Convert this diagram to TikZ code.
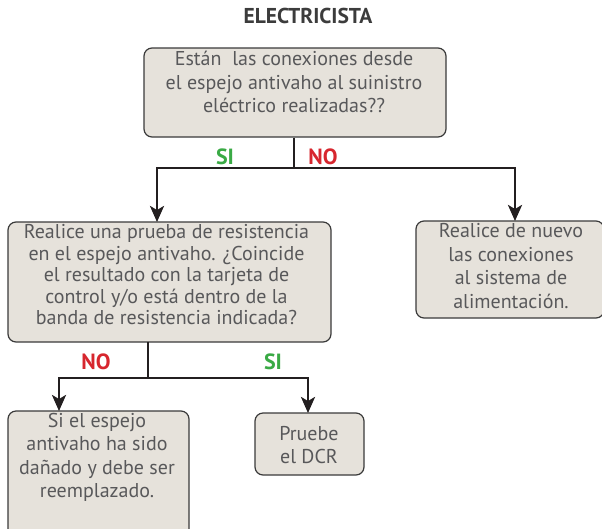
\documentclass[tikz,border=0pt]{standalone}
\usepackage{fontspec}
\setmainfont{PT Sans}
\usetikzlibrary{arrows.meta}
\definecolor{boxfill}{HTML}{E6E2DB}
\definecolor{boxline}{HTML}{3A3A3A}
\definecolor{txtgray}{HTML}{58585A}
\definecolor{titlegray}{HTML}{3C3C3C}
\definecolor{linecol}{HTML}{231F20}
\definecolor{sigreen}{HTML}{3AAA45}
\definecolor{nored}{HTML}{D7262E}
\tikzset{
  box/.style={draw=boxline, fill=boxfill, line width=1.2pt, rounded corners=8pt, inner sep=0pt},
  txt/.style={text=txtgray, align=center, font=\fontsize{20}{23.5}\selectfont, inner sep=0pt},
  conn/.style={draw=linecol, line width=2.8pt},
  arr/.style={conn, -{Stealth[length=16pt,width=14pt,inset=4pt]}},
  yes/.style={text=sigreen, font=\bfseries\fontsize{22}{24}\selectfont},
  no/.style={text=nored, font=\bfseries\fontsize{22}{24}\selectfont},
}
\begin{document}
\begin{tikzpicture}[x=1pt,y=-1pt]
\useasboundingbox (0,0) rectangle (602,528);
\clip (0,0) rectangle (602,528);
\node[text=titlegray, font=\bfseries\fontsize{21.5}{24}\selectfont] (title) at (308,16) {ELECTRICISTA};

\node[box, minimum width=302pt, minimum height=89pt] (q1) at (295,92.5) {};
\node[txt] (q1t) at (294,82) {Están \ las conexiones desde\\el espejo antivaho al suinistro\\eléctrico realizadas??};

\node[box, minimum width=323pt, minimum height=120pt] (q2) at (169.5,282) {};
\node[txt, font=\fontsize{20}{21.5}\selectfont] (q2t) at (166.5,275) {Realice una prueba de resistencia\\en el espejo antivaho. ¿Coincide\\el resultado con la tarjeta de\\control y/o está dentro de la\\banda de resistencia indicada?};

\node[box, minimum width=188pt, minimum height=97pt] (r1) at (510,269.5) {};
\node[txt] (r1t) at (511,266) {Realice de nuevo\\las conexiones\\al sistema de\\alimentación.};

\node[box, minimum width=181pt, minimum height=129pt] (b1) at (98.5,475.5) {};
\node[txt] (b1t) at (97,457.5) {Si el espejo\\antivaho ha sido\\dañado y debe ser\\reemplazado.};

\node[box, minimum width=109pt, minimum height=62pt] (b2) at (309.5,444) {};
\node[txt] (b2t) at (309,445) {Pruebe\\el DCR};

\coordinate (j1) at (294,168);
\coordinate (t1) at (157,222);
\coordinate (t2) at (515,221);
\coordinate (m1) at (148,342);
\coordinate (j2) at (148,378);
\coordinate (t3) at (59,411);
\coordinate (t4) at (308,413);

\draw[conn] (q1.south -| j1) -- (j1);
\draw[arr] (j1) -| (t1);
\draw[arr] (j1) -| (t2);
\draw[conn] (m1) -- (j2);
\draw[arr] (j2) -| (t3);
\draw[arr] (j2) -| (t4);

\node[yes] (s1) at (225,157) {SI};
\node[no] (n1) at (323,157) {NO};
\node[no] (n2) at (96,362) {NO};
\node[yes] (s2) at (273,362) {SI};
\end{tikzpicture}
\end{document}
